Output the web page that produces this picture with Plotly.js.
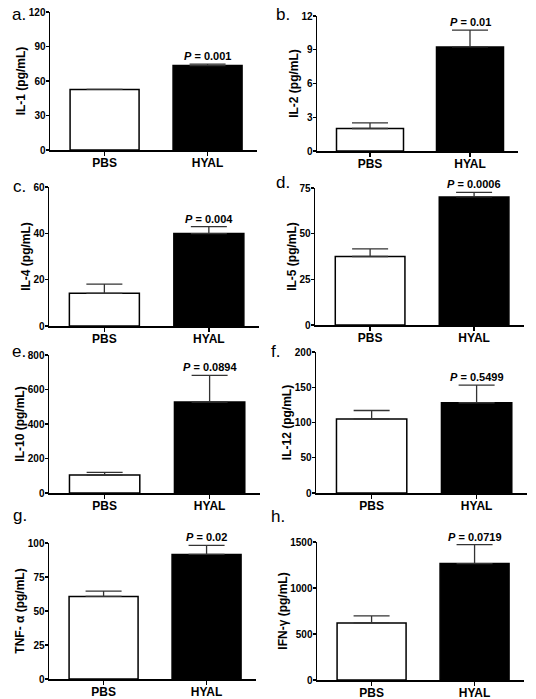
<!DOCTYPE html>
<html><head><meta charset="utf-8">
<script src="https://cdn.plot.ly/plotly-3.0.1.min.js"></script>
<style>html,body{margin:0;padding:0;background:#fff}#chart{width:536px;height:699px}</style>
</head><body><div id="chart"></div>
<script>
// ---- data ----
const groups = ["PBS", "HYAL"];
const panelLetters = ["a.", "b.", "c.", "d.", "e.", "f.", "g.", "h."];
const yTitles = ["IL-1 (pg/mL)", "IL-2 (pg/mL)", "IL-4 (pg/mL)", "IL-5 (pg/mL)",
                 "IL-10 (pg/mL)", "IL-12 (pg/mL)", "TNF- α (pg/mL)", "IFN-γ (pg/mL)"];
const il1   = [52.7, 73.4];   const il1Err   = [0, 1.2];
const il2   = [2.0, 9.25];    const il2Err   = [0.5, 1.5];
const il4   = [14.1, 39.9];   const il4Err   = [4.0, 3.0];
const il5   = [37.5, 70.1];   const il5Err   = [4.2, 2.5];
const il10  = [104, 527];     const il10Err  = [16, 155];
const il12  = [105, 128];     const il12Err  = [12, 25];
const tnf   = [60.7, 91.6];   const tnfErr   = [3.9, 6.7];
const ifn   = [620, 1265];    const ifnErr   = [76, 206];
const pValues = ["0.001", "0.01", "0.004", "0.0006", "0.0894", "0.5499", "0.02", "0.0719"];
const yMax  = [120, 12, 60, 75, 800, 200, 100, 1500];
const yStep = [30, 3, 20, 25, 200, 50, 25, 500];

const values = [il1, il2, il4, il5, il10, il12, tnf, ifn];
const errors = [il1Err, il2Err, il4Err, il5Err, il10Err, il12Err, tnfErr, ifnErr];

// ---- layout geometry (pixels) ----
const W = 536, H = 699;
const boxes = [ // [left, right, top, bottom]
  [50, 257, 12, 150], [317, 518, 16, 151],
  [49, 259, 187, 326], [315, 524, 188, 325],
  [49, 260, 355, 493], [316, 527, 352, 493],
  [49, 256, 543, 679], [317, 524, 542, 680]
];
const letterPos = [[10, 15], [274, 15], [11, 186], [274, 182], [10, 351], [269, 351], [11, 515], [269, 516]];
const FONT = "Liberation Sans, Arial, sans-serif";

const data = [];
const layout = {
  width: W, height: H, margin: {l: 0, r: 0, t: 0, b: 0},
  paper_bgcolor: "#fff", plot_bgcolor: "rgba(0,0,0,0)",
  showlegend: false, annotations: [], font: {family: FONT, color: "#000"}
};

for (let i = 0; i < 8; i++) {
  const n = i === 0 ? "" : String(i + 1);
  const b = boxes[i];
  data.push({
    type: "bar", x: groups, y: values[i], xaxis: "x" + n, yaxis: "y" + n,
    width: 0.67,
    marker: {color: ["#ffffff", "#000000"], line: {color: "#000", width: 1.5}},
    error_y: {type: "data", symmetric: false, array: errors[i], arrayminus: [0, 0],
              color: "#333", thickness: 1.3, width: 18},
    hoverinfo: "none"
  });
  layout["xaxis" + n] = {
    domain: [b[0] / W, b[1] / W], anchor: "y" + n, range: [-0.53, 1.48],
    showline: true, linecolor: "#000", linewidth: 1.5, ticks: "outside", ticklen: 4,
    tickwidth: 1.3, tickcolor: "#000", showgrid: false, zeroline: false, fixedrange: true,
    ticklabelstandoff: -3,
    tickfont: {family: FONT, size: 12, weight: "bold", color: "#000"}
  };
  layout["yaxis" + n] = {
    domain: [1 - b[3] / H, 1 - b[2] / H], anchor: "x" + n, range: [0, yMax[i]],
    tick0: 0, dtick: yStep[i],
    showline: true, linecolor: "#000", linewidth: 1.5, ticks: "outside", ticklen: 3,
    tickwidth: 1.3, tickcolor: "#000", showgrid: false, zeroline: false, fixedrange: true,
    ticklabelstandoff: -2,
    tickfont: {family: FONT, size: 10, weight: "bold", color: "#000"},
    title: {text: yTitles[i], standoff: 0, font: {family: FONT, size: 12, weight: "bold", color: "#000"}}
  };
  layout.annotations.push({
    xref: "x" + n, yref: "y" + n, x: groups[1], y: values[i][1] + errors[i][1],
    yanchor: "bottom", showarrow: false, yshift: 0,
    text: "<i>P</i> = " + pValues[i],
    font: {family: FONT, size: 11, weight: "bold", color: "#000"}
  });
  layout.annotations.push({
    xref: "paper", yref: "paper", x: letterPos[i][0] / W, y: 1 - letterPos[i][1] / H,
    xanchor: "left", yanchor: "middle", showarrow: false, text: panelLetters[i],
    font: {family: FONT, size: 17, color: "#000"}
  });
}

Plotly.newPlot("chart", data, layout, {displayModeBar: false, staticPlot: true});
</script></body></html>
